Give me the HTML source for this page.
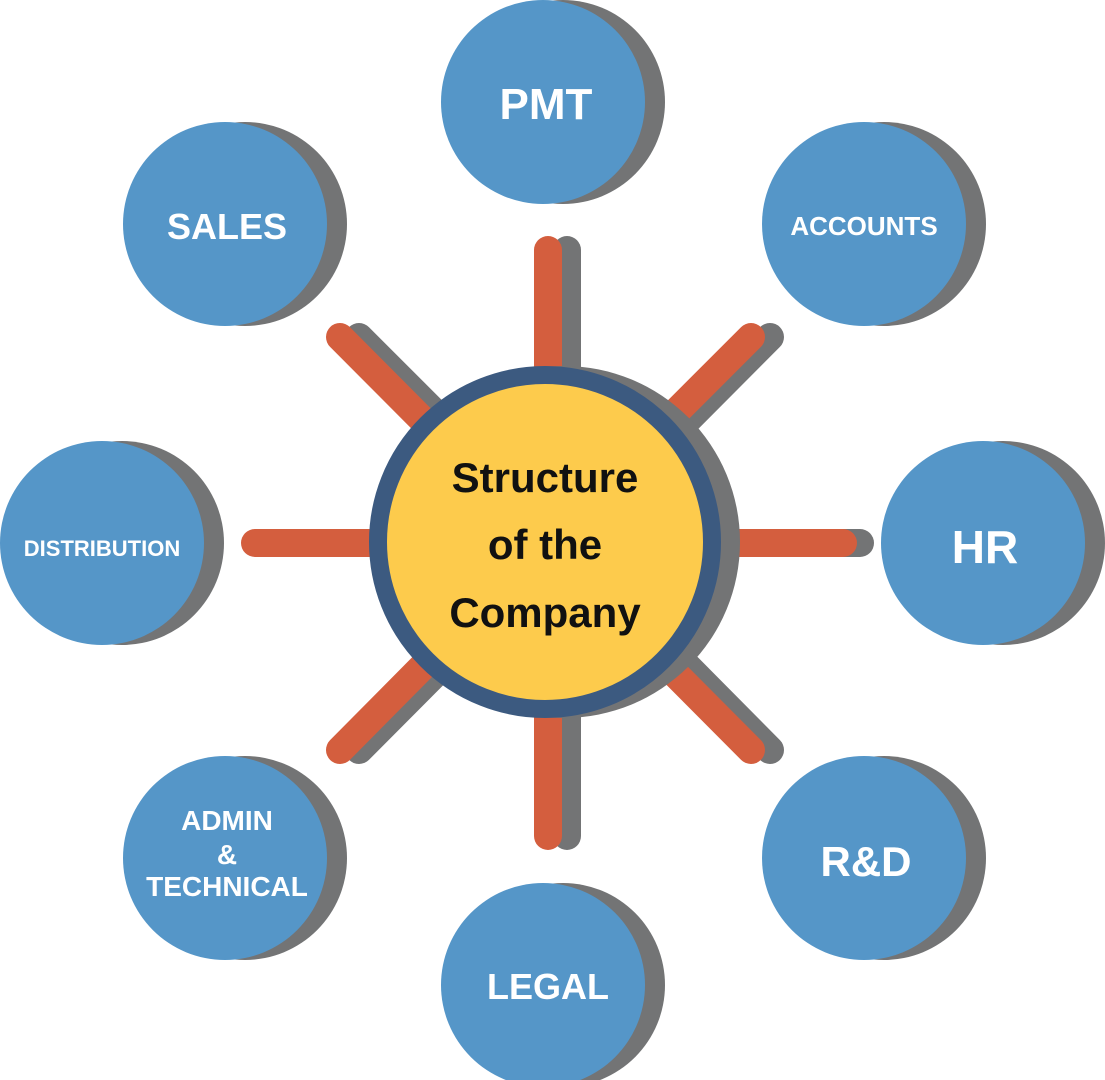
<!DOCTYPE html>
<html><head><meta charset="utf-8"><style>
html,body{margin:0;padding:0;background:#fff;}
svg{display:block;}
text{font-family:"Liberation Sans",sans-serif;font-weight:bold;fill:#fff;text-anchor:middle;}
</style></head><body>
<svg width="1105" height="1080" viewBox="0 0 1105 1080">
<g stroke-linecap="round" stroke-width="28">
  <g stroke="#737475">
    <line x1="567" y1="250" x2="567" y2="542"/>
    <line x1="567" y1="542" x2="567" y2="836"/>
    <line x1="262" y1="543" x2="565" y2="543"/>
    <line x1="565" y1="543" x2="860" y2="543"/>
    <line x1="359" y1="337" x2="565" y2="543"/>
    <line x1="770" y1="337" x2="565" y2="543"/>
    <line x1="359" y1="750" x2="565" y2="543"/>
    <line x1="770" y1="750" x2="565" y2="543"/>
  </g>
  <g stroke="#D45E3E">
    <line x1="548" y1="250" x2="548" y2="542"/>
    <line x1="548" y1="542" x2="548" y2="836"/>
    <line x1="255" y1="543" x2="545" y2="543"/>
    <line x1="545" y1="543" x2="843" y2="543"/>
    <line x1="340" y1="337" x2="545" y2="543"/>
    <line x1="751" y1="337" x2="545" y2="543"/>
    <line x1="340" y1="750" x2="545" y2="543"/>
    <line x1="751" y1="750" x2="545" y2="543"/>
  </g>
</g>
<g>
  <circle cx="564" cy="542" r="176" fill="#737475"/>
  <circle cx="545" cy="542" r="167" fill="#FDCB4C" stroke="#3C5A80" stroke-width="18"/>
  <text x="545" y="492" style="fill:#111;font-size:42px;font-weight:bold">Structure</text>
  <text x="545" y="559" style="fill:#111;font-size:42px;font-weight:bold">of the</text>
  <text x="545" y="627" style="fill:#111;font-size:42px;font-weight:bold">Company</text>
</g>
<g>
  <g><circle cx="563" cy="102" r="102" fill="#737475"/><circle cx="543" cy="102" r="102" fill="#5596C8"/><text x="546" y="119" font-size="44">PMT</text></g>
  <g><circle cx="245" cy="224" r="102" fill="#737475"/><circle cx="225" cy="224" r="102" fill="#5596C8"/><text x="227" y="239" font-size="36">SALES</text></g>
  <g><circle cx="884" cy="224" r="102" fill="#737475"/><circle cx="864" cy="224" r="102" fill="#5596C8"/><text x="864" y="235" font-size="26">ACCOUNTS</text></g>
  <g><circle cx="122" cy="543" r="102" fill="#737475"/><circle cx="102" cy="543" r="102" fill="#5596C8"/><text x="102" y="556" font-size="22">DISTRIBUTION</text></g>
  <g><circle cx="1003" cy="543" r="102" fill="#737475"/><circle cx="983" cy="543" r="102" fill="#5596C8"/><text x="985" y="563" font-size="46">HR</text></g>
  <g><circle cx="245" cy="858" r="102" fill="#737475"/><circle cx="225" cy="858" r="102" fill="#5596C8"/><text x="227" y="830" font-size="28">ADMIN</text><text x="227" y="864" font-size="28">&amp;</text><text x="227" y="896" font-size="28">TECHNICAL</text></g>
  <g><circle cx="884" cy="858" r="102" fill="#737475"/><circle cx="864" cy="858" r="102" fill="#5596C8"/><text x="866" y="876" font-size="42">R&amp;D</text></g>
  <g><circle cx="563" cy="985" r="102" fill="#737475"/><circle cx="543" cy="985" r="102" fill="#5596C8"/><text x="548" y="999" font-size="36">LEGAL</text></g>
</g>
</svg>
</body></html>
